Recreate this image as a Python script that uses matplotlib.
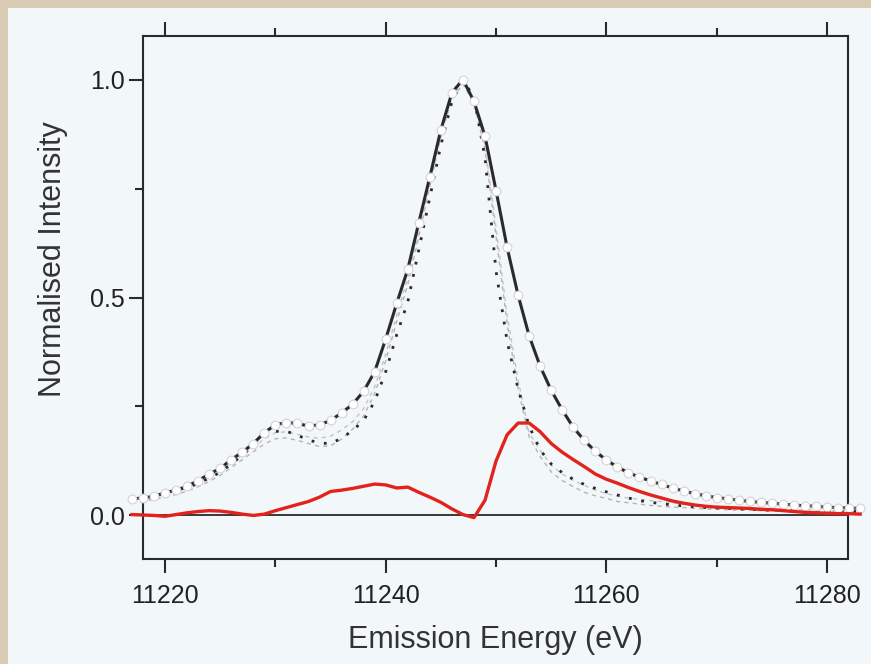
"""
Emission spectrum: measured curve, two reference curves, a model curve
and the difference (red), on a normalised intensity scale.
"""
import numpy as np
import matplotlib
matplotlib.use("Agg")
import matplotlib.pyplot as plt
from matplotlib.patches import Rectangle
from matplotlib.ticker import MultipleLocator, FormatStrFormatter

plt.rcParams["font.family"] = ["Liberation Sans", "DejaVu Sans"]

# energy grid (eV), 1 eV steps
energy = np.arange(11217, 11284)

measured = [0.038, 0.040, 0.044, 0.052, 0.058, 0.067, 0.080, 0.095, 0.108, 0.128,
            0.145, 0.165, 0.190, 0.208, 0.213, 0.211, 0.205, 0.208, 0.218, 0.235,
            0.255, 0.285, 0.330, 0.405, 0.487, 0.565, 0.672, 0.777, 0.885, 0.970,
            1.000, 0.950, 0.870, 0.745, 0.615, 0.505, 0.412, 0.342, 0.287, 0.242,
            0.202, 0.172, 0.147, 0.127, 0.111, 0.098, 0.088, 0.079, 0.071, 0.063,
            0.056, 0.050, 0.045, 0.041, 0.038, 0.035, 0.032, 0.030, 0.028, 0.026,
            0.024, 0.022, 0.021, 0.019, 0.018, 0.017, 0.016]

model = [0.036, 0.040, 0.045, 0.052, 0.058, 0.064, 0.073, 0.086, 0.099, 0.118,
         0.138, 0.160, 0.180, 0.193, 0.193, 0.184, 0.173, 0.166, 0.165, 0.177,
         0.195, 0.218, 0.262, 0.330, 0.415, 0.490, 0.610, 0.730, 0.850, 0.950,
         0.998, 0.960, 0.820, 0.560, 0.400, 0.290, 0.205, 0.150, 0.118, 0.098,
         0.083, 0.071, 0.062, 0.054, 0.047, 0.040, 0.034, 0.030, 0.027, 0.024,
         0.022, 0.020, 0.018, 0.017, 0.016, 0.015, 0.014, 0.013, 0.012, 0.012,
         0.011, 0.011, 0.010, 0.010, 0.009, 0.009, 0.009]

ref_a = [0.034, 0.038, 0.042, 0.048, 0.055, 0.063, 0.075, 0.088, 0.102, 0.120,
         0.138, 0.156, 0.176, 0.190, 0.192, 0.186, 0.180, 0.177, 0.182, 0.196,
         0.215, 0.245, 0.295, 0.370, 0.460, 0.545, 0.650, 0.765, 0.875, 0.960,
         0.995, 0.950, 0.850, 0.660, 0.460, 0.310, 0.190, 0.150, 0.115, 0.095,
         0.080, 0.069, 0.058, 0.050, 0.044, 0.040, 0.037, 0.034, 0.032, 0.029,
         0.027, 0.025, 0.023, 0.021, 0.020, 0.018, 0.017, 0.016, 0.015, 0.014,
         0.013, 0.013, 0.012, 0.012, 0.011, 0.011, 0.010]

ref_b = [0.030, 0.033, 0.037, 0.042, 0.048, 0.056, 0.066, 0.078, 0.092, 0.110,
         0.128, 0.146, 0.164, 0.176, 0.178, 0.172, 0.165, 0.158, 0.160, 0.175,
         0.198, 0.228, 0.280, 0.355, 0.445, 0.530, 0.640, 0.755, 0.870, 0.955,
         0.990, 0.945, 0.840, 0.640, 0.440, 0.290, 0.180, 0.135, 0.100, 0.080,
         0.066, 0.053, 0.045, 0.039, 0.032, 0.029, 0.026, 0.023, 0.021, 0.019,
         0.018, 0.016, 0.015, 0.014, 0.013, 0.012, 0.012, 0.011, 0.010, 0.010,
         0.009, 0.009, 0.009, 0.008, 0.008, 0.008, 0.008]

difference = [0.002, 0.001, 0.000, -0.002, 0.002, 0.006, 0.009, 0.011, 0.010, 0.007,
              0.003, 0.000, 0.003, 0.011, 0.018, 0.025, 0.032, 0.042, 0.055, 0.058,
              0.062, 0.067, 0.072, 0.070, 0.063, 0.065, 0.053, 0.042, 0.030, 0.015,
              0.002, -0.005, 0.035, 0.125, 0.185, 0.212, 0.212, 0.192, 0.165, 0.145,
              0.128, 0.112, 0.095, 0.083, 0.074, 0.064, 0.055, 0.047, 0.040, 0.033,
              0.028, 0.024, 0.021, 0.019, 0.018, 0.017, 0.016, 0.014, 0.013, 0.011,
              0.009, 0.007, 0.006, 0.005, 0.004, 0.004, 0.003]

PANEL = "#f2f7fa"
INK = "#2a2a2a"

fig = plt.figure(figsize=(8.71, 6.64), dpi=100, facecolor="#d8ccb4")
fig.patches.append(Rectangle((8 / 871, 0), 1, 1 - 8 / 664, transform=fig.transFigure,
                             facecolor=PANEL, edgecolor="none", zorder=-10))

ax = fig.add_axes([0.1642, 0.1581, 0.8094, 0.7877])
ax.set_facecolor(PANEL)

ax.axhline(0, color=INK, lw=1.3, zorder=1)
ax.plot(energy, ref_b, color="#b4b4b4", lw=1.0, ls=(0, (3, 3)), clip_on=False, zorder=2)
ax.plot(energy, ref_a, color="#c4c4c4", lw=1.0, ls=(0, (3, 3)), clip_on=False, zorder=2)
ax.plot(energy, model, color=INK, lw=2.0, ls=(0, (1, 3.5)), clip_on=False, zorder=3)
ax.plot(energy, measured, color=INK, lw=2.2, marker="o", ms=6.3, mfc="white",
        mec="#d4d4d4", mew=0.8, clip_on=False, zorder=4)
ax.plot(energy, difference, color="#e3231b", lw=2.4, clip_on=False, zorder=5)

ax.set_xlim(11218, 11281.9)
ax.set_ylim(-0.1, 1.1)
ax.xaxis.set_major_locator(MultipleLocator(20))
ax.xaxis.set_minor_locator(MultipleLocator(10))
ax.yaxis.set_major_locator(MultipleLocator(0.5))
ax.yaxis.set_minor_locator(MultipleLocator(0.25))
ax.yaxis.set_major_formatter(FormatStrFormatter("%.1f"))

for s in ax.spines.values():
    s.set_color(INK)
    s.set_linewidth(1.5)
ax.tick_params(which="both", direction="out", color=INK, width=1.5,
               top=True, right=False, labelsize=18, labelcolor="#222")
ax.tick_params(axis="x", pad=8)
ax.tick_params(axis="y", pad=3)
ax.tick_params(which="major", length=10)
ax.tick_params(which="minor", length=6)

ax.set_xlabel("Emission Energy (eV)", fontsize=22, color="#333", labelpad=12)
ax.set_ylabel("Normalised Intensity", fontsize=22, color="#333")
ax.yaxis.set_label_coords(-0.106, 0.574)

fig.savefig("out.png", dpi=100, facecolor=fig.get_facecolor())
